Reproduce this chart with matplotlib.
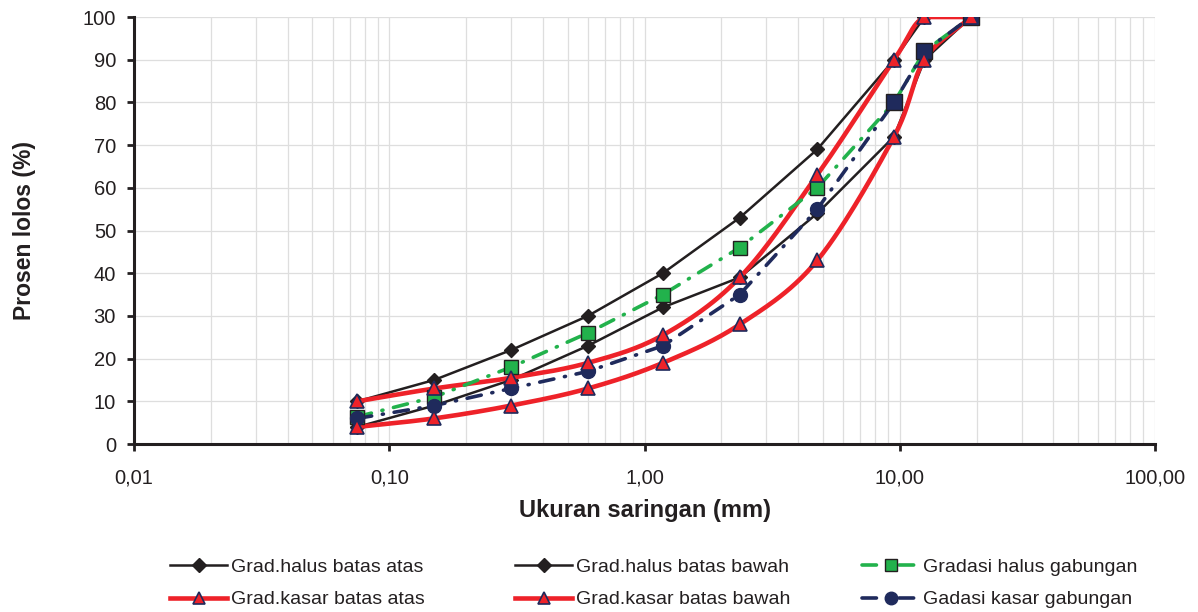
import matplotlib
matplotlib.use("Agg")
import matplotlib.pyplot as plt
from matplotlib.ticker import FixedLocator, LogLocator, NullFormatter
import numpy as np

plt.rcParams['font.family'] = ['Liberation Sans', 'DejaVu Sans']

# sieve sizes (mm)
saringan = [0.075, 0.15, 0.3, 0.6, 1.18, 2.36, 4.75, 9.5, 12.5, 19.0]

# percent passing
halus_atas = [10, 15, 22, 30, 40, 53, 69, 90, 100, 100]
halus_bawah = [4, 9, 15, 23, 32, 39, 54, 72, 90, 100]
kasar_atas = [10, 13, 15.5, 19, 25.5, 39, 63, 90, 100, 100]
kasar_bawah = [4, 6, 9, 13, 19, 28, 43, 72, 90, 100]
gab_halus = [6.4, 11, 18, 26, 35, 46, 60, 80, 92, 100]
gab_kasar = [6, 9, 13, 17, 23, 35, 55, 80, 92, 100]

x_ticks = [0.01, 0.1, 1, 10, 100]
x_ticklabels = ["0,01", "0,10", "1,00", "10,00", "100,00"]

NAVY = "#1f2a5c"
RED = "#ee2229"
GREEN = "#22b24c"
DARK = "#231f20"


def smooth(xs, ys, n=30):
    # excel-like smoothed line: catmull-rom through points in log-x space
    lx = np.log10(xs)
    ys = np.asarray(ys, dtype=float)
    px = np.concatenate([[2 * lx[0] - lx[1]], lx, [2 * lx[-1] - lx[-2]]])
    py = np.concatenate([[2 * ys[0] - ys[1]], ys, [2 * ys[-1] - ys[-2]]])
    outx, outy = [], []
    t = np.linspace(0, 1, n)
    for i in range(1, len(px) - 2):
        for p, o in ((px, outx), (py, outy)):
            p0, p1, p2, p3 = p[i - 1], p[i], p[i + 1], p[i + 2]
            o.extend(0.5 * ((2 * p1) + (-p0 + p2) * t +
                            (2 * p0 - 5 * p1 + 4 * p2 - p3) * t ** 2 +
                            (-p0 + 3 * p1 - 3 * p2 + p3) * t ** 3))
    return 10 ** np.array(outx), np.minimum(np.array(outy), 100)


fig = plt.figure(figsize=(11.98, 6.12), dpi=100)
ax = fig.add_axes([0.1119, 0.2745, 0.8522, 0.6977])

ax.set_xscale("log")
ax.set_xlim(0.01, 100)
ax.set_ylim(0, 100)

# black limits
l1, = ax.plot(saringan, halus_atas, color=DARK, lw=1.8, marker="D", ms=7,
              mfc=DARK, mec=DARK, label="Grad.halus batas atas", zorder=3)
l2, = ax.plot(saringan, halus_bawah, color=DARK, lw=1.8, marker="D", ms=7,
              mfc=DARK, mec=DARK, label="Grad.halus batas bawah", zorder=3)

# red smoothed limits
for ys in (kasar_atas, kasar_bawah):
    sx, sy = smooth(saringan, ys)
    ax.plot(sx, sy, color=RED, lw=3.3, zorder=4, solid_capstyle="round")
tri = dict(ls="none", marker="^", ms=10, mfc=RED, mec=NAVY, mew=1.2, zorder=7)
ax.plot(saringan, kasar_atas, **tri)
ax.plot(saringan, kasar_bawah, **tri)
l3, = ax.plot([], [], color=RED, lw=3.3, marker="^", ms=9, mfc=RED, mec=NAVY,
              mew=1.2, label="Grad.kasar batas atas")
l4, = ax.plot([], [], color=RED, lw=3.3, marker="^", ms=9, mfc=RED, mec=NAVY,
              mew=1.2, label="Grad.kasar batas bawah")

# combined gradations
dd = (4, 3, 0.3, 3)
ax.plot(saringan, gab_halus, color=GREEN, lw=2.6, dashes=dd,
        dash_capstyle="round", zorder=5)
ax.plot(saringan, gab_halus, ls="none", marker="s", ms=10, mfc=GREEN,
        mec=DARK, mew=1, markevery=list(range(7)), zorder=6)
ax.plot(saringan, gab_kasar, color=NAVY, lw=2.6, dashes=dd,
        dash_capstyle="round", zorder=5)
ax.plot(saringan, gab_kasar, ls="none", marker="o", ms=10, mfc=NAVY,
        mec=NAVY, markevery=list(range(7)), zorder=6)
ax.plot(saringan, gab_halus, ls="none", marker="s", ms=11, mfc=NAVY,
        mec=DARK, mew=1, markevery=[7, 8, 9], zorder=6)
l5, = ax.plot([], [], color=GREEN, lw=2.6, dashes=dd, dash_capstyle="round",
              marker="s", ms=9, mfc=GREEN, mec=DARK, mew=1,
              label="Gradasi halus gabungan")
l6, = ax.plot([], [], color=NAVY, lw=2.6, dashes=dd, dash_capstyle="round",
              marker="o", ms=9, mfc=NAVY, mec=NAVY,
              label="Gadasi kasar gabungan")

# axes styling
ax.xaxis.set_major_locator(FixedLocator(x_ticks))
ax.set_xticklabels(x_ticklabels)
ax.xaxis.set_minor_locator(LogLocator(base=10, subs=np.arange(2, 10)))
ax.xaxis.set_minor_formatter(NullFormatter())
ax.set_yticks(np.arange(0, 101, 10))
ax.grid(True, which="both", axis="x", color="#dedede", lw=0.9)
ax.grid(True, which="major", axis="y", color="#dedede", lw=0.9)
ax.set_axisbelow(True)
for s in ("top", "right"):
    ax.spines[s].set_visible(False)
for s in ("left", "bottom"):
    ax.spines[s].set_linewidth(2.2)
    ax.spines[s].set_color(DARK)
    ax.spines[s].set_zorder(8)
ax.tick_params(axis="x", which="major", length=5, width=2, color=DARK,
               pad=12.5, labelsize=14.5, labelcolor=DARK)
ax.tick_params(axis="x", which="minor", length=0)
ax.tick_params(axis="y", length=5, width=2, color=DARK, pad=8,
               labelsize=14.5, labelcolor=DARK)

ax.set_xlabel("Ukuran saringan (mm)", fontsize=17, fontweight="bold",
              color=DARK)
ax.set_ylabel("Prosen lolos (%)", fontsize=16.5, fontweight="bold",
              color=DARK)
ax.xaxis.set_label_coords(0.5, -0.128)
ax.yaxis.set_label_coords(-0.096, 0.5)

# legend: three columns placed separately
leg_cols = [([l1, l3], 170), ([l2, l4], 515), ([l5, l6], 862)]
for hs, xpx in leg_cols:
    fig.legend(handles=hs, loc="upper left", frameon=False,
               bbox_to_anchor=(xpx / 1198, 1 - 558 / 612),
               borderpad=0, borderaxespad=0,
               fontsize=14, handlelength=2.95, handletextpad=0.2,
               labelspacing=0.78, labelcolor=DARK)

plt.savefig("out.png", dpi=100)
